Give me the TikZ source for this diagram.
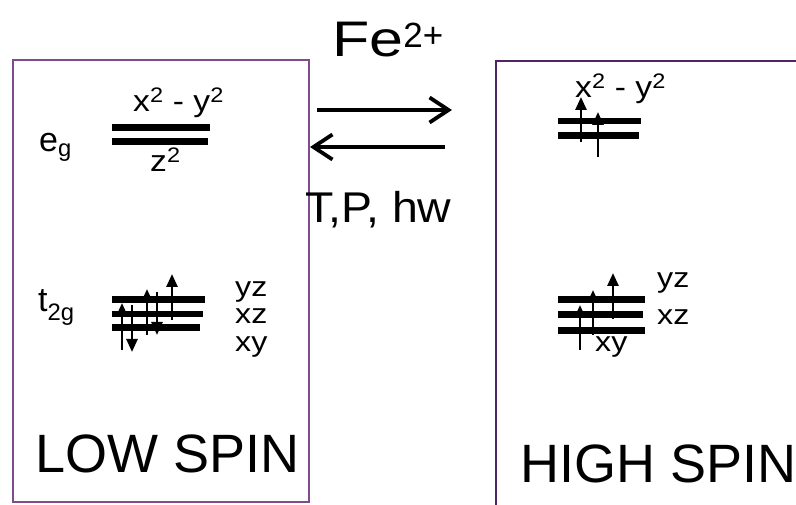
\documentclass[tikz,border=0pt]{standalone}
\usepackage{fontspec}
\setmainfont{Liberation Sans}
\usepackage{graphicx}
\usetikzlibrary{arrows.meta}
\definecolor{boxL}{HTML}{7E4C8C}
\definecolor{boxR}{HTML}{4F2460}
\begin{document}
\begin{tikzpicture}[x=1pt,y=-1pt,
  level/.style={line width=6.5pt},
  spin/.style={line width=2.6pt,-{Triangle[length=13pt,width=11pt]}},
  rxn/.style={line width=3.8pt,-{Straight Barb[length=19pt,width=25pt,line width=3.8pt]}},
  txt/.style={inner sep=0pt,anchor=base west},
  lab/.style={txt,font=\fontsize{30}{34}\selectfont},
  orbl/.style={txt,font=\fontsize{28}{30}\selectfont},
  big/.style={txt,font=\fontsize{54}{60}\selectfont},
  mid/.style={txt,font=\fontsize{43}{48}\selectfont},
  orb/.style={txt,font=\fontsize{34}{38}\selectfont}]
\useasboundingbox (0,0) rectangle (796,505);
\clip (0,0) rectangle (796,505);
% boxes
\draw[boxL,line width=2.4pt] (13,60) rectangle (309,502);
\draw[boxR,line width=2.4pt] (496,61) rectangle (830,540);
% titles
\node[txt,font=\fontsize{50}{56}\selectfont] (fe) at (332,57) {\scalebox{1.22}[1]{Fe}\textsuperscript{2+}};
\node[mid] (tph) at (305,223) {\scalebox{1.08}[1]{T,P, hw}};
\node[big] (low) at (35,472) {LOW SPIN};
\node[big] (high) at (520,482) {HIGH SPIN};
% reaction arrows
\coordinate (f1) at (317,110);
\coordinate (f2) at (452,110);
\coordinate (b1) at (445,147);
\coordinate (b2) at (310,147);
\draw[rxn] (f1) -- (f2);
\draw[rxn] (b1) -- (b2);
% left labels
\node[orb] (eg) at (39,152) {e\textsubscript{g}};
\node[orb] (t2g) at (38,312) {t\textsubscript{2g}};
\node[lab] (lx) at (133,112) {\scalebox{1.12}[1]{x\textsuperscript{2} - y\textsuperscript{2}}};
\node[lab] (lz) at (150,172) {\scalebox{1.12}[1]{z\textsuperscript{2}}};
\node[orbl] (lyz) at (235,297) {\scalebox{1.15}[1]{yz}};
\node[orbl] (lxz) at (235,324) {\scalebox{1.15}[1]{xz}};
\node[orbl] (lxy) at (235,352) {\scalebox{1.15}[1]{xy}};
% right labels
\node[lab] (rx) at (575,98) {\scalebox{1.12}[1]{x\textsuperscript{2} - y\textsuperscript{2}}};
\node[orbl] (ryz) at (657,288) {\scalebox{1.15}[1]{yz}};
\node[orbl] (rxz) at (657,325) {\scalebox{1.15}[1]{xz}};
\node[orbl] (rxy) at (595,352) {\scalebox{1.15}[1]{xy}};
% left levels
\draw[level] (112,127.5) -- (210,127.5);
\draw[level] (112,141.5) -- (208,141.5);
\draw[level] (112,299.5) -- (205,299.5);
\draw[level] (112,314) -- (203,314);
\draw[level] (112,327.5) -- (200,327.5);
% right levels
\draw[level] (558,121) -- (641,121);
\draw[level] (558,135.5) -- (639,135.5);
\draw[level] (558,299.5) -- (645,299.5);
\draw[level] (558,314.5) -- (643,314.5);
\draw[level] (558,330.5) -- (645,330.5);
% left spins
\draw[spin] (122,350) -- (122,303);
\draw[spin] (132,305) -- (132,352);
\draw[spin] (147,335) -- (147,289);
\draw[spin] (157,292) -- (157,335);
\draw[spin] (172,320) -- (172,274);
% right spins
\draw[spin] (581,142) -- (581,97);
\draw[spin] (598,157) -- (598,112);
\draw[spin] (580,350) -- (580,305);
\draw[spin] (593,335) -- (593,290);
\draw[spin] (613,319) -- (613,273);
\end{tikzpicture}
\end{document}
